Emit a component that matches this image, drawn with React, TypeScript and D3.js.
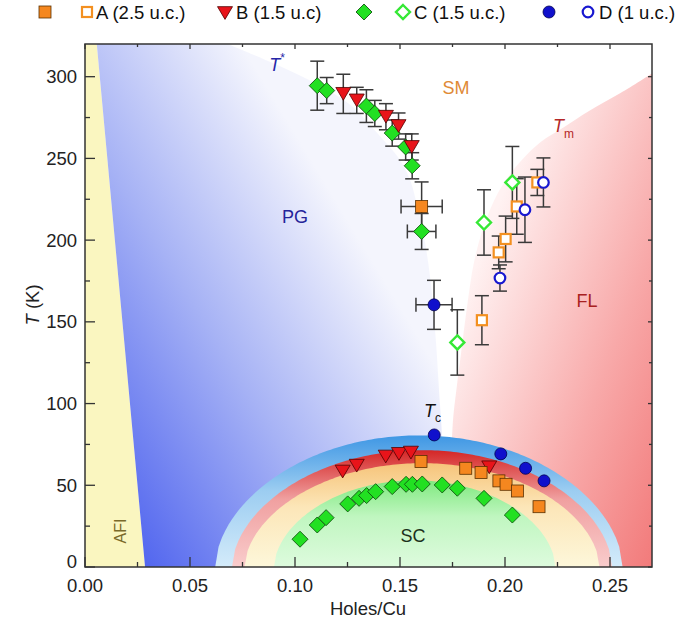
import React from 'react';
import * as d3 from 'd3';

const W = 678;
const H = 628;
const L = 85, R = 652, TOP = 44, BOT = 567;

const xTicks = [0, 0.05, 0.1, 0.15, 0.2, 0.25];
const xMinor = [0.025, 0.075, 0.125, 0.175, 0.225];
const yTicks = [0, 50, 100, 150, 200, 250, 300];
const yMinor = [25, 75, 125, 175, 225, 275];

// [holes/Cu, T, errT, errP]
const aFilled = [[0.1603, 220.6, 15, 0.0098], [0.160, 64.5], [0.1813, 60.4], [0.1886, 57.8], [0.1971, 52.7], [0.2005, 50.6], [0.2059, 46.5], [0.2162, 36.9]];
const aOpen = [[0.189, 151, 15], [0.197, 192.5, 10], [0.2003, 200.7, 14], [0.2056, 220.6, 17], [0.2154, 235.3, 8]];
const bFilled = [[0.123, 289.5, 12], [0.1294, 285.5, 8], [0.1433, 275.5, 8], [0.1493, 269.8, 8], [0.1556, 257, 8], [0.1227, 58.4], [0.1294, 62], [0.1432, 67.6], [0.1495, 69.2], [0.1552, 70], [0.1925, 61]];
const cFilled = [[0.1106, 294.5, 15], [0.1151, 291.5, 8], [0.134, 282, 10], [0.138, 277.5, 8], [0.1463, 265.5, 8], [0.1527, 257, 8], [0.1558, 245.5, 8], [0.1603, 205.3, 11, 0.0068],
  [0.1024, 17], [0.1106, 25.7], [0.1148, 30.2], [0.1251, 38.6], [0.1305, 42], [0.1341, 43.7], [0.1384, 46.1], [0.1463, 49.2], [0.1529, 50.6], [0.1559, 50.6], [0.1606, 50.8], [0.1701, 50.2], [0.1773, 48.2], [0.19, 42], [0.2035, 31.8]];
const cOpen = [[0.1773, 137.4, 20], [0.19, 210.8, 20], [0.2035, 235.3, 22]];
const dFilled = [[0.1662, 160.4, 15, 0.0086], [0.1663, 80.8], [0.198, 69.2], [0.2098, 60.4], [0.2186, 52.7]];
const dOpen = [[0.1976, 176.8, 8], [0.2095, 218.6, 20], [0.2183, 235.3, 15]];

// phase boundaries
const afiLine = [[0.0286, 0], [0.0056, 320]];
const tStarLine = [[0.068, 320], [0.09, 308], [0.105, 299], [0.118, 290], [0.128, 281], [0.136, 270], [0.143, 260], [0.150, 249], [0.155, 236], [0.158, 222], [0.161, 205], [0.163, 190], [0.165, 170], [0.167, 140], [0.169, 100], [0.170, 80], [0.171, 0]];
const tmLine = [[0.27, 302], [0.255, 290], [0.24, 279], [0.228, 269], [0.217, 260], [0.208, 249], [0.2, 236], [0.194, 222], [0.189, 205], [0.185, 185], [0.182, 160], [0.179, 130], [0.177, 110], [0.175, 85], [0.174, 0]];
// SC dome bands: [center, halfWidth, Tmax]
const domeBands = [[0.159, 0.097, 80.5], [0.1605, 0.0905, 71.5], [0.1605, 0.0845, 63.5], [0.157, 0.067, 53]];
const domeColors = [['#3f97e4', '#9ccdf1', '#d4ebfa'], ['#d42626', '#f0a0a0', '#f9cccc'], ['#f6c47a', '#fce6b8', '#fdf7da'], ['#7fe97f', '#c0f6c0', '#defbde']];

const x = d3.scaleLinear().domain([0, 0.27]).range([L, R]);
const y = d3.scaleLinear().domain([0, 320]).range([BOT, TOP]);

const FONT = 'Liberation Sans, Arial, Helvetica, sans-serif';

function diamondPath(cx: number, cy: number, r: number) {
  return `M${cx},${cy - r}L${cx + r},${cy}L${cx},${cy + r}L${cx - r},${cy}Z`;
}
function triPath(cx: number, cy: number, s: number) {
  const h = s * 0.85;
  return `M${cx - s / 2},${cy - h / 2}L${cx + s / 2},${cy - h / 2}L${cx},${cy + h / 2}Z`;
}

type Kind = 'sq' | 'osq' | 'tri' | 'dia' | 'odia' | 'cir' | 'ocir';
function Marker({ kind, cx, cy }: { kind: Kind; cx: number; cy: number }) {
  switch (kind) {
    case 'sq': return <rect x={cx - 6} y={cy - 6} width={12} height={12} fill="#f5871f" stroke="#5a3000" strokeWidth={0.8} />;
    case 'osq': return <rect x={cx - 5} y={cy - 5} width={10} height={10} fill="white" stroke="#f39020" strokeWidth={2.2} />;
    case 'tri': return <path d={triPath(cx, cy, 15)} fill="#e8141a" stroke="#500000" strokeWidth={0.8} />;
    case 'dia': return <path d={diamondPath(cx, cy, 8)} fill="#22e022" stroke="#115511" strokeWidth={0.9} />;
    case 'odia': return <path d={diamondPath(cx, cy, 7)} fill="white" stroke="#35e835" strokeWidth={2.4} />;
    case 'cir': return <circle cx={cx} cy={cy} r={6} fill="#1010cc" stroke="#000050" strokeWidth={0.8} />;
    case 'ocir': return <circle cx={cx} cy={cy} r={5.3} fill="white" stroke="#1818d0" strokeWidth={2.2} />;
  }
  return null;
}

function ErrorBars({ data }: { data: number[][] }) {
  const cap = 7;
  return (
    <g stroke="#3a3a3a" strokeWidth={1.5} fill="none">
      {data.map((d, i) => {
        const cx = x(d[0]), cy = y(d[1]);
        const parts: JSX.Element[] = [];
        if (d[2]) {
          const y1 = y(d[1] + d[2]), y2 = y(d[1] - d[2]);
          parts.push(<line key="v" x1={cx} x2={cx} y1={y1} y2={y2} />);
          parts.push(<line key="c1" x1={cx - cap} x2={cx + cap} y1={y1} y2={y1} />);
          parts.push(<line key="c2" x1={cx - cap} x2={cx + cap} y1={y2} y2={y2} />);
        }
        if (d[3]) {
          const x1 = x(d[0] - d[3]), x2 = x(d[0] + d[3]);
          parts.push(<line key="h" x1={x1} x2={x2} y1={cy} y2={cy} />);
          parts.push(<line key="c3" x1={x1} x2={x1} y1={cy - cap} y2={cy + cap} />);
          parts.push(<line key="c4" x1={x2} x2={x2} y1={cy - cap} y2={cy + cap} />);
        }
        return <g key={i}>{parts}</g>;
      })}
    </g>
  );
}

function Points({ data, kind }: { data: number[][]; kind: Kind }) {
  return <g>{data.map((d, i) => <Marker key={i} kind={kind} cx={x(d[0])} cy={y(d[1])} />)}</g>;
}

export default function App() {
  const px = (pts: number[][]) => pts.map(p => [x(p[0]), y(p[1])] as [number, number]);
  const curve = d3.line().curve(d3.curveCatmullRom.alpha(0.5));

  const afiPath = `M${x(0)},${y(0)}L${x(afiLine[0][0])},${y(0)}L${x(afiLine[1][0])},${y(320)}L${x(0)},${y(320)}Z`;
  const tStarPx = px(tStarLine);
  const pgPath = `M${x(afiLine[0][0])},${y(0)}L${x(afiLine[1][0])},${y(320)}` + (curve(tStarPx) as string).replace(/^M/, 'L') + 'Z';
  const tmPx = px(tmLine);
  const flPath = (curve(tmPx) as string) + `L${x(0.27)},${y(0)}Z`;

  const domePaths = domeBands.map(([c, w, tm]) => {
    const n = 120;
    const pts: [number, number][] = [];
    for (let i = 0; i <= n; i++) {
      const u = -1 + (2 * i) / n;
      const t = tm * Math.pow(Math.max(0, 1 - u * u), 0.55);
      pts.push([x(c + u * w), y(t)]);
    }
    return d3.line()(pts) + 'Z';
  });

  const legendY = 12;
  const legendText = { fontFamily: FONT, fontSize: 18.5, fill: '#111' } as const;

  return (
    <svg width={W} height={H} style={{ position: 'absolute', left: 0, top: 0, background: 'white' }} fontFamily={FONT}>
      <defs>
        <linearGradient id="pg" gradientUnits="userSpaceOnUse" x1={145} y1={560} x2={444} y2={379}>
          <stop offset="0" stopColor="#5468ef" />
          <stop offset="0.5" stopColor="#a6b2f5" />
          <stop offset="1" stopColor="#f4f5fd" />
        </linearGradient>
        <linearGradient id="fl" gradientUnits="userSpaceOnUse" x1={463} y1={300} x2={758} y2={410}>
          <stop offset="0" stopColor="#fff2f2" />
          <stop offset="0.5" stopColor="#f8a9a9" />
          <stop offset="1" stopColor="#f06868" />
        </linearGradient>
        {domeColors.map((cs, i) => (
          <linearGradient key={i} id={`dome${i}`} gradientUnits="userSpaceOnUse" x1={0} y1={y(domeBands[i][2])} x2={0} y2={y(0)}>
            <stop offset="0" stopColor={cs[0]} />
            <stop offset="0.42" stopColor={cs[1]} />
            <stop offset="1" stopColor={cs[2]} />
          </linearGradient>
        ))}
        <clipPath id="plot"><rect x={L} y={TOP} width={R - L} height={BOT - TOP} /></clipPath>
      </defs>

      <g clipPath="url(#plot)">
        <rect x={L} y={TOP} width={R - L} height={BOT - TOP} fill="white" />
        <path d={afiPath} fill="#faf6c0" />
        <path d={pgPath} fill="url(#pg)" />
        <path d={flPath} fill="url(#fl)" />
        {domePaths.map((d, i) => <path key={i} d={d} fill={`url(#dome${i})`} />)}
      </g>

      {/* error bars */}
      <ErrorBars data={aFilled} />
      <ErrorBars data={aOpen} />
      <ErrorBars data={bFilled} />
      <ErrorBars data={cFilled} />
      <ErrorBars data={cOpen} />
      <ErrorBars data={dFilled} />
      <ErrorBars data={dOpen} />

      {/* markers */}
      <Points data={cFilled} kind="dia" />
      <Points data={bFilled} kind="tri" />
      <Points data={aFilled} kind="sq" />
      <Points data={dFilled} kind="cir" />
      <Points data={aOpen} kind="osq" />
      <Points data={cOpen} kind="odia" />
      <Points data={dOpen} kind="ocir" />

      {/* region labels */}
      <text x={277} y={70.5} fontSize={18} fill="#2626a8" textAnchor="middle"><tspan fontStyle="italic">T</tspan><tspan fontSize={12} dy={-9}>*</tspan></text>
      <text x={295} y={223} fontSize={18} fill="#24249a" textAnchor="middle">PG</text>
      <text x={456} y={94} fontSize={18} fill="#e08a36" textAnchor="middle">SM</text>
      <text x={553} y={132} fontSize={18} fill="#b42828"><tspan fontStyle="italic">T</tspan><tspan fontSize={12} dy={6}>m</tspan></text>
      <text x={587} y={307} fontSize={18} fill="#a82020" textAnchor="middle">FL</text>
      <text x={424} y={417} fontSize={18} fill="#111"><tspan fontStyle="italic">T</tspan><tspan fontSize={12} dy={5}>c</tspan></text>
      <text x={413} y={542} fontSize={18} fill="#1b301b" textAnchor="middle">SC</text>
      <text transform={`translate(126,531) rotate(-90)`} fontSize={16} fill="#7a6a2a" textAnchor="middle">AFI</text>

      {/* axes frame & ticks */}
      <g stroke="#333" strokeWidth={1.3}>
        {xTicks.map(t => <g key={t}><line x1={x(t)} x2={x(t)} y1={BOT} y2={BOT - 10} /><line x1={x(t)} x2={x(t)} y1={TOP} y2={TOP + 5} /></g>)}
        {xMinor.map(t => <g key={t}><line x1={x(t)} x2={x(t)} y1={BOT} y2={BOT - 5} /><line x1={x(t)} x2={x(t)} y1={TOP} y2={TOP + 3} /></g>)}
        {yTicks.map(t => <g key={t}><line x1={L} x2={L + 10} y1={y(t)} y2={y(t)} /><line x1={R} x2={R - 4} y1={y(t)} y2={y(t)} /></g>)}
        {yMinor.map(t => <g key={t}><line x1={L} x2={L + 5} y1={y(t)} y2={y(t)} /><line x1={R} x2={R - 3} y1={y(t)} y2={y(t)} /></g>)}
      </g>
      <rect x={L} y={TOP} width={R - L} height={BOT - TOP} fill="none" stroke="#333" strokeWidth={1.5} />

      {xTicks.map(t => <text key={t} x={x(t)} y={592} fontSize={18.5} fill="#222" textAnchor="middle">{t.toFixed(2)}</text>)}
      {yTicks.map(t => <text key={t} x={77} y={t === 0 ? y(t) - 5 : y(t)} dy="0.35em" fontSize={18.5} fill="#222" textAnchor="end">{t}</text>)}
      <text x={368} y={615} fontSize={18.5} fill="#222" textAnchor="middle">Holes/Cu</text>
      <text transform="translate(39,305) rotate(-90)" fontSize={18.5} fill="#222" textAnchor="middle"><tspan fontStyle="italic">T</tspan> (K)</text>

      {/* legend */}
      <g>
        <Marker kind="sq" cx={45} cy={legendY} />
        <Marker kind="osq" cx={87} cy={legendY} />
        <text x={96} y={legendY + 6.5} style={legendText}>A (2.5 u.c.)</text>
        <Marker kind="tri" cx={225} cy={legendY + 1} />
        <text x={236} y={legendY + 6.5} style={legendText}>B (1.5 u.c)</text>
        <Marker kind="dia" cx={364} cy={legendY} />
        <Marker kind="odia" cx={403} cy={legendY} />
        <text x={414} y={legendY + 6.5} style={legendText}>C (1.5 u.c.)</text>
        <Marker kind="cir" cx={549} cy={legendY} />
        <Marker kind="ocir" cx={588} cy={legendY} />
        <text x={599} y={legendY + 6.5} style={legendText}>D (1 u.c.)</text>
      </g>
    </svg>
  );
}
